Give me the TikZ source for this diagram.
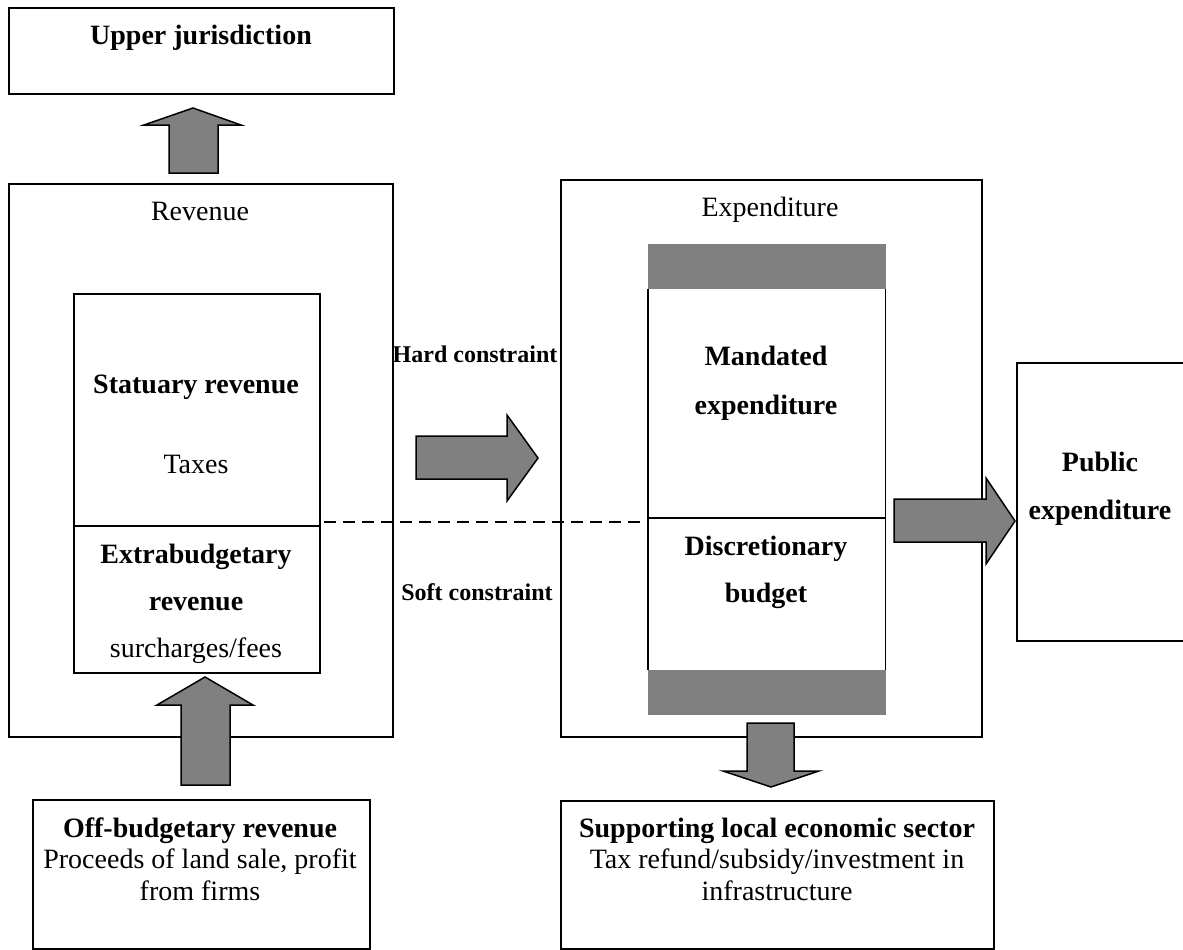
\documentclass[tikz,border=0pt]{standalone}
\usepackage{fontspec}
\setmainfont{Liberation Serif}
\definecolor{arrowgray}{HTML}{808080}
\tikzset{
  box/.style={draw=black, line width=1.8pt, rectangle, inner sep=0pt, anchor=north west},
  blk/.style={draw=black, line width=1.5pt, fill=arrowgray, line join=miter},
  band/.style={fill=arrowgray, draw=none},
  lbl/.style={anchor=base, inner sep=0pt, font=\fontsize{28}{34}\selectfont},
  blbl/.style={anchor=base, inner sep=0pt, font=\fontsize{28}{34}\selectfont\bfseries},
  clbl/.style={anchor=base, inner sep=0pt, font=\fontsize{24}{28}\selectfont\bfseries},
  dash line/.style={line width=1.6pt, dash pattern=on 12pt off 7pt},
}
\begin{document}
\begin{tikzpicture}[x=1pt, y=-1pt]
\clip (0,0) rectangle (1183,950);
\fill[white] (0,0) rectangle (1183,950);

% boxes
\node[box, minimum width=385pt, minimum height=86pt] (upper) at (8,7) {};
\node[box, minimum width=384pt, minimum height=553pt] (rev) at (8,183) {};
\node[box, minimum width=246pt, minimum height=379pt] (rin) at (73,293) {};
\draw[line width=1.8pt] (rin.west |- 0,526) -- (rin.east |- 0,526);
\node[box, minimum width=421pt, minimum height=557pt] (exp) at (560,179) {};
\node[box, minimum width=200pt, minimum height=278pt] (pub) at (1016,362) {};
\node[box, minimum width=337pt, minimum height=149pt] (off) at (32,799) {};
\node[box, minimum width=433pt, minimum height=148pt] (sup) at (560,800) {};

% expenditure inner column
\node[band, anchor=north west, minimum width=238pt, minimum height=45pt, inner sep=0pt] (bandtop) at (648,244) {};
\node[band, anchor=north west, minimum width=238pt, minimum height=45pt, inner sep=0pt] (bandbot) at (648,670) {};
\coordinate (einnw) at (bandtop.south west);
\coordinate (einne) at ([xshift=-1pt]bandtop.south east);
\coordinate (einsw) at (bandbot.north west);
\coordinate (einse) at ([xshift=-1pt]bandbot.north east);
\draw[line width=1.8pt] (einnw) -- (einsw);
\draw[line width=1.8pt] (einne) -- (einse);
\draw[line width=1.8pt] (einnw |- 0,518) -- (einne |- 0,518);

% dashed link
\draw[dash line] ([xshift=3pt]rin.east |- 0,522) -- ([xshift=-6pt]einnw |- 0,522);

% block arrows
\draw[blk] (169,173) -- (169,125) -- (144,125) -- (193,108) -- (241,125) -- (218,125) -- (218,173) -- cycle;
\draw[blk] (416,436) -- (507,436) -- (507,415) -- (538,458) -- (507,501) -- (507,479) -- (416,479) -- cycle;
\draw[blk] (894,499) -- (986,499) -- (986,478) -- (1015,521) -- (986,564) -- (986,542) -- (894,542) -- cycle;
\draw[blk] (181,785) -- (181,705) -- (157,705) -- (205,677) -- (253,705) -- (230,705) -- (230,785) -- cycle;
\draw[blk] (747,723) -- (747,771) -- (723,771) -- (771,787) -- (819,771) -- (794,771) -- (794,723) -- cycle;

% texts
\node[blbl] (tupper) at (201,45) {Upper jurisdiction};
\node[lbl] (trev) at (200,220) {Revenue};
\node[blbl] (tstat) at (196,393) {Statuary revenue};
\node[lbl] (ttax) at (196,473) {Taxes};
\node[blbl] (textra1) at (196,563) {Extrabudgetary};
\node[blbl] (textra2) at (196,610) {revenue};
\node[lbl] (tsur) at (196,657) {surcharges/fees};
\node[clbl] (thard) at (475,362) {Hard constraint};
\node[clbl] (tsoft) at (477,600) {Soft constraint};
\node[lbl] (texp) at (770,216) {Expenditure};
\node[blbl] (tmand1) at (766,365) {Mandated};
\node[blbl] (tmand2) at (766,414) {expenditure};
\node[blbl] (tdisc1) at (766,555) {Discretionary};
\node[blbl] (tdisc2) at (766,602) {budget};
\node[blbl] (tpub1) at (1100,471) {Public};
\node[blbl] (tpub2) at (1100,519) {expenditure};
\node[blbl] (toff1) at (200,837) {Off-budgetary revenue};
\node[lbl] (toff2) at (200,868) {Proceeds of land sale, profit};
\node[lbl] (toff3) at (200,900) {from firms};
\node[blbl] (tsup1) at (777,837) {Supporting local economic sector};
\node[lbl] (tsup2) at (777,868) {Tax refund/subsidy/investment in};
\node[lbl] (tsup3) at (777,900) {infrastructure};
\end{tikzpicture}
\end{document}
